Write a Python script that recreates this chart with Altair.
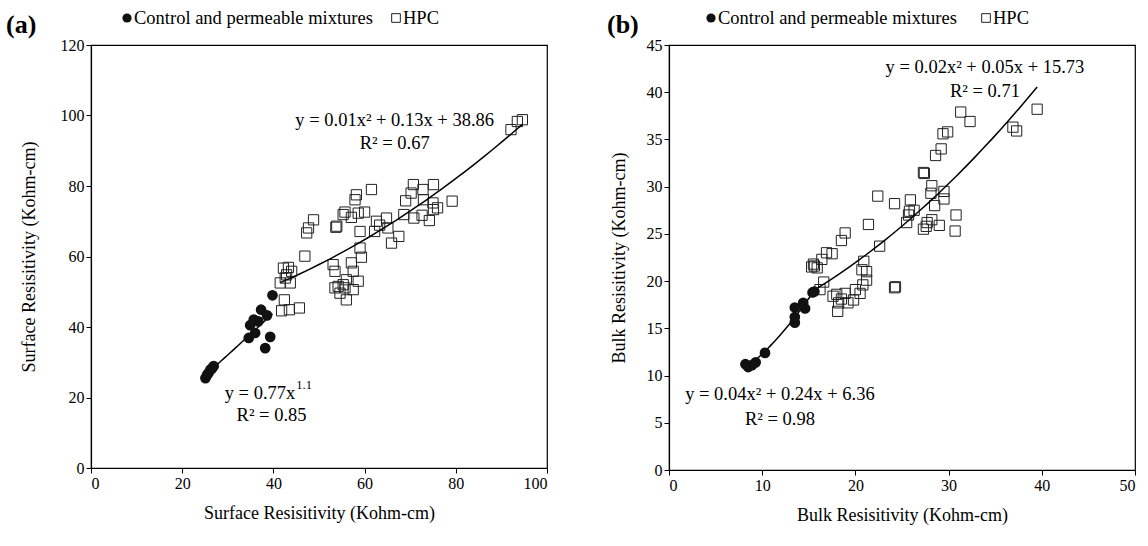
import altair as alt
import pandas as pd

FONT = "Liberation Serif"

# ---------------- Panel (a): surface resistivity ----------------
ctrl_a_x = [39.8, 37.3, 38.6, 35.7, 36.7, 34.9, 36.0, 34.6, 39.3, 38.2, 26.9, 26.2, 25.1, 25.5, 25.8, 26.5]
ctrl_a_y = [49.0, 44.9, 43.3, 42.1, 41.6, 40.5, 38.3, 36.9, 37.2, 34.0, 28.9, 27.9, 25.5, 26.5, 27.0, 28.2]

hpc_a_x = [94.6, 93.5, 92.1,
           42.2, 43.3, 44.0, 42.9, 41.5, 43.7, 42.6, 46.9, 42.4, 41.8, 43.5, 45.7,
           53.1, 53.5, 57.1, 59.0, 59.3, 57.5, 56.0, 58.6, 53.5, 54.6, 55.7, 57.5, 56.0, 54.2, 55.3,
           61.5, 58.2, 57.9, 55.7, 55.3, 57.1, 58.6, 60.0, 53.7, 59.0, 62.6, 63.3, 64.8, 65.1, 62.2, 67.5, 65.9,
           70.7, 70.2, 69.0, 72.8, 75.1, 75.0, 76.0, 79.2, 68.6, 70.8, 72.6, 74.2, 75.1, 72.9,
           48.8, 47.7, 47.3, 53.9]
hpc_a_y = [98.8, 98.3, 96.0,
           56.7, 56.9, 55.8, 54.8, 52.5, 52.5, 53.9, 60.1, 47.7, 44.6, 44.9, 45.4,
           57.7, 55.8, 58.2, 62.4, 59.8, 55.8, 53.4, 53.0, 51.1, 49.6, 51.1, 50.6, 47.7, 51.5, 52.0,
           79.0, 77.5, 76.1, 72.6, 71.9, 71.1, 72.3, 72.6, 68.3, 67.1, 70.0, 68.9, 70.9, 68.1, 67.1, 65.7, 63.8,
           80.4, 78.0, 75.8, 79.0, 80.4, 75.2, 73.8, 75.7, 71.9, 70.9, 71.7, 70.2, 73.3, 76.1,
           70.4, 68.1, 66.7, 68.6]

# ---------------- Panel (b): bulk resistivity ----------------
ctrl_b_x = [8.5, 8.9, 9.3, 8.2, 10.3, 13.5, 13.5, 13.5, 14.4, 14.6, 15.4, 15.6]
ctrl_b_y = [10.9, 11.1, 11.4, 11.2, 12.4, 15.6, 16.2, 17.2, 17.7, 17.1, 18.8, 18.9]

hpc_b_x = [21.4, 18.9, 18.5, 16.9, 17.5, 16.4, 15.5, 15.9, 15.6, 15.3, 16.6, 16.2, 18.0, 17.6, 18.9,
           20.0, 20.5, 18.2, 18.5, 19.2, 19.8, 18.1, 20.9, 20.7, 21.2, 21.2, 22.6,
           22.4, 24.2, 24.2, 24.3, 20.8,
           31.3, 32.3, 29.4, 29.9, 29.2, 28.6, 27.4, 27.3, 28.2, 28.1, 29.5, 29.5, 28.5, 25.9,
           25.8, 26.3, 25.7, 25.5, 28.2, 27.6, 27.3, 27.7, 29.0, 30.8, 30.7, 36.9, 37.3, 39.5]
hpc_b_y = [26.0, 25.1, 24.3, 23.0, 22.9, 22.3, 21.8, 21.4, 21.6, 21.5, 19.9, 19.1, 18.6, 18.4, 18.7,
           19.1, 18.7, 17.7, 18.1, 17.7, 18.0, 16.8, 22.1, 21.2, 21.0, 20.1, 23.7,
           29.0, 28.2, 19.3, 19.4, 19.6,
           37.9, 36.9, 35.6, 35.8, 34.0, 33.3, 31.4, 31.5, 30.1, 29.3, 29.5, 28.7, 28.0, 28.6,
           27.4, 27.5, 27.0, 26.2, 26.5, 25.8, 25.5, 26.2, 25.9, 27.0, 25.3, 36.3, 35.9, 38.2]

# annotation texts
eq_a_hpc = "y = 0.01x² + 0.13x + 38.86"
r2_a_hpc = "R² = 0.67"
eq_a_ctrl = "y = 0.77x"
eq_a_ctrl_sup = "1.1"
r2_a_ctrl = "R² = 0.85"
eq_b_hpc = "y = 0.02x² + 0.05x + 15.73"
r2_b_hpc = "R² = 0.71"
eq_b_ctrl = "y = 0.04x² + 0.24x + 6.36"
r2_b_ctrl = "R² = 0.98"
legend_ctrl = "Control and permeable mixtures"
legend_hpc = "HPC"

TXT = 18.5


def panel(cx, cy, hx, hy, xmax, ymax, xstep, ystep, xtitle, ytitle, ctrl_reg, annots, sup,
          letter, leg, w, h, ytp):
    ctrl = pd.DataFrame({"x": cx, "y": cy})
    hpc = pd.DataFrame({"x": hx, "y": hy})
    xs = alt.Scale(domain=[0, xmax], nice=False, zero=True)
    ys = alt.Scale(domain=[0, ymax], nice=False, zero=True)
    xax = alt.Axis(values=list(range(0, xmax + 1, xstep)), title=xtitle, titlePadding=13)
    yax = alt.Axis(values=list(range(0, ymax + 1, ystep)), title=ytitle, titlePadding=ytp)

    pts_h = alt.Chart(hpc).mark_point(shape="square", filled=False, size=105, color="#222222",
                                       strokeWidth=1, opacity=1).encode(
        x=alt.X("x:Q", scale=xs, axis=xax), y=alt.Y("y:Q", scale=ys, axis=yax))
    pts_c = alt.Chart(ctrl).mark_circle(size=115, color="#111111", opacity=1).encode(
        x=alt.X("x:Q", scale=xs), y=alt.Y("y:Q", scale=ys))

    reg_h = alt.Chart(hpc).transform_regression("x", "y", method="poly", order=2).mark_line(
        color="black", strokeWidth=1.5).encode(x=alt.X("x:Q", scale=xs), y=alt.Y("y:Q", scale=ys))
    if ctrl_reg == "pow":
        rc = alt.Chart(ctrl).transform_regression("x", "y", method="pow")
    else:
        rc = alt.Chart(ctrl).transform_regression("x", "y", method="poly", order=2)
    reg_c = rc.mark_line(color="black", strokeWidth=1.5).encode(
        x=alt.X("x:Q", scale=xs), y=alt.Y("y:Q", scale=ys))

    ann = pd.DataFrame(annots, columns=["x", "y", "t"])
    txt = alt.Chart(ann).mark_text(font=FONT, fontSize=TXT, color="black", align="center",
                                   baseline="middle").encode(
        x=alt.X("x:Q", scale=xs), y=alt.Y("y:Q", scale=ys), text="t:N")
    layers = [pts_h, reg_h, reg_c, pts_c, txt]
    if sup is not None:
        sdf = pd.DataFrame([sup], columns=["x", "y", "main", "s"])
        m = alt.Chart(sdf).mark_text(font=FONT, fontSize=TXT, color="black", align="right",
                                     baseline="middle").encode(
            x=alt.X("x:Q", scale=xs), y=alt.Y("y:Q", scale=ys), text="main:N")
        s = alt.Chart(sdf).mark_text(font=FONT, fontSize=12.5, color="black", align="left",
                                     baseline="middle", dx=1, dy=-8).encode(
            x=alt.X("x:Q", scale=xs), y=alt.Y("y:Q", scale=ys), text="s:N")
        layers += [m, s]

    lab = alt.Chart(pd.DataFrame({"t": [letter]})).mark_text(
        font=FONT, fontSize=26, fontWeight="bold", color="black", align="left",
        baseline="middle").encode(x=alt.value(leg[0]), y=alt.value(-20), text="t:N")
    lc = alt.Chart(pd.DataFrame({"t": [legend_ctrl]})).mark_circle(
        size=85, color="#111111", opacity=1).encode(x=alt.value(leg[1]), y=alt.value(-27))
    lct = alt.Chart(pd.DataFrame({"t": [legend_ctrl]})).mark_text(
        font=FONT, fontSize=TXT, color="black", align="left", baseline="middle").encode(
        x=alt.value(leg[1] + 7), y=alt.value(-27), text="t:N")
    lh = alt.Chart(pd.DataFrame({"t": [legend_hpc]})).mark_point(
        shape="square", filled=False, size=75, color="#222222", strokeWidth=1, opacity=1).encode(
        x=alt.value(leg[2]), y=alt.value(-27))
    lht = alt.Chart(pd.DataFrame({"t": [legend_hpc]})).mark_text(
        font=FONT, fontSize=TXT, color="black", align="left", baseline="middle").encode(
        x=alt.value(leg[2] + 7), y=alt.value(-27), text="t:N")
    layers += [lab, lc, lct, lh, lht]
    return alt.layer(*layers).properties(width=w, height=h)


pa = panel(ctrl_a_x, ctrl_a_y, hpc_a_x, hpc_a_y, 100, 120, 20, 20,
           "Surface Resisitivity (Kohm-cm)", "Surface Resisitivity (Kohm-cm)", "pow",
           [(66.6, 98.8, eq_a_hpc), (66.6, 92.2, r2_a_hpc), (39.6, 15.1, r2_a_ctrl)],
           (44.8, 21.3, eq_a_ctrl, eq_a_ctrl_sup),
           "(a)", (-85, 36, 305), 456, 423, 22)
pb = panel(ctrl_b_x, ctrl_b_y, hpc_b_x, hpc_b_y, 50, 45, 10, 5,
           "Bulk Resisitivity (Kohm-cm)", "Bulk Resisitivity (Kohm-cm)", "poly",
           [(33.9, 42.7, eq_b_hpc), (33.9, 40.1, r2_b_hpc), (11.9, 8.1, eq_b_ctrl), (11.9, 5.4, r2_b_ctrl)],
           None,
           "(b)", (-62, 42, 317), 466, 425, 18)

chart = alt.hconcat(pa, pb, spacing=57).properties(
    padding={"left": 5, "top": 8, "right": 5, "bottom": 5},
    background="white"
).configure_view(stroke="black", strokeWidth=1.2).configure_axis(
    grid=False, domainColor="black", domainWidth=1.2, tickColor="black", tickSize=5,
    labelFont=FONT, labelFontSize=16, labelColor="black",
    titleFont=FONT, titleFontSize=18, titleFontWeight="normal", titleColor="black"
)

chart.save("out.html", embed_options={"renderer": "svg", "actions": False})
